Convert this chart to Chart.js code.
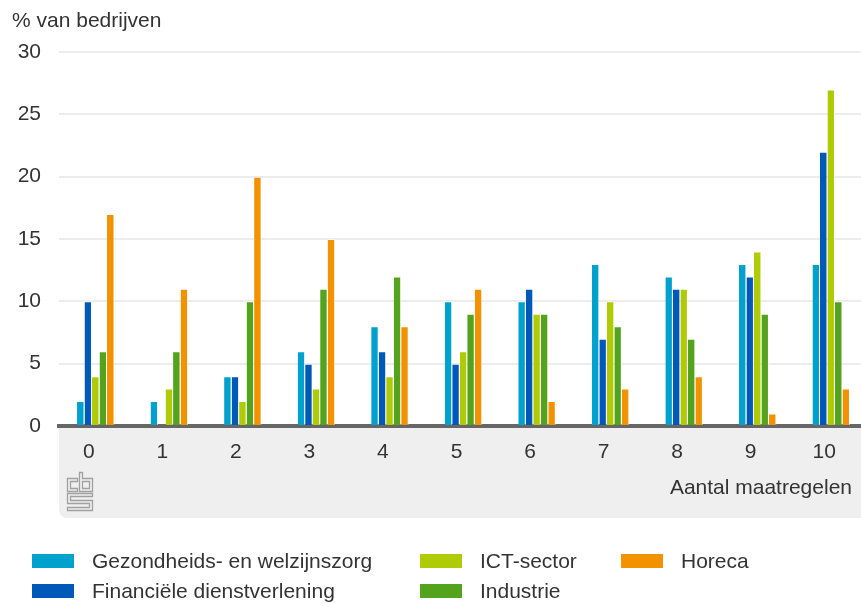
<!DOCTYPE html>
<html>
<head>
<meta charset="utf-8">
<script src="https://cdn.jsdelivr.net/npm/chart.js@4"></script>
<style>
  body { margin: 0; background: #fff; font-family: "Liberation Sans", Arial, sans-serif; }
  #wrap { position: relative; width: 861px; height: 604px; overflow: hidden; }
  #myChart { position: absolute; left: 0; top: 0; }
  .leg { position: absolute; font-size: 21px; color: #333; line-height: 24px; white-space: nowrap; padding-left: 60px; }
  .leg span { position: absolute; left: 0; top: 5px; width: 42px; height: 14px; }
</style>
</head>
<body>
<div id="wrap">
  <canvas id="myChart" width="868" height="604"></canvas>
  <div id="legend"></div>
</div>
<script>
// aantal maatregelen (x-as)
const categories = ["0", "1", "2", "3", "4", "5", "6", "7", "8", "9", "10"];

// % van bedrijven per sector
const zorg       = [2, 2, 4, 6, 8, 10, 10, 13, 12, 13, 13];
const financieel = [10, 0, 4, 5, 6, 5, 11, 7, 11, 12, 22];
const ict        = [4, 3, 2, 3, 4, 6, 9, 10, 11, 14, 27];
const industrie  = [6, 6, 10, 11, 12, 9, 9, 8, 7, 9, 10];
const horeca     = [17, 11, 20, 15, 8, 11, 2, 3, 4, 1, 3];

const yTicks = [0, 5, 10, 15, 20, 25, 30];

const sectors = ["Gezondheids- en welzijnszorg", "Financiële dienstverlening", "ICT-sector", "Industrie", "Horeca"];
const colors = ["#00a1cd", "#0058b8", "#afcb05", "#53a31d", "#f39200"];
const series = [zorg, financieel, ict, industrie, horeca];

// legenda in kolommen: [kolom x, rij]
const legendPos = [[32, 0], [32, 1], [420, 0], [420, 1], [621, 0]];
const legendEl = document.getElementById("legend");
sectors.forEach((name, i) => {
  const d = document.createElement("div");
  d.className = "leg";
  d.style.left = legendPos[i][0] + "px";
  d.style.top = (549 + legendPos[i][1] * 30) + "px";
  d.innerHTML = '<span style="background:' + colors[i] + '"></span>' + name;
  legendEl.appendChild(d);
});

// grijze band onder de x-as, titels en cbs-logo
const decoPlugin = {
  id: "deco",
  beforeDraw(chart) {
    const ctx = chart.ctx;
    const a = chart.chartArea;
    ctx.save();
    ctx.fillStyle = "#efefef";
    ctx.beginPath();
    ctx.roundRect(a.left, a.bottom, chart.width - a.left + 10, 92, [0, 0, 0, 8]);
    ctx.fill();
    ctx.restore();
  },
  afterDraw(chart) {
    const ctx = chart.ctx;
    ctx.save();
    ctx.font = "21px 'Liberation Sans', Arial, sans-serif";
    ctx.fillStyle = "#333";
    ctx.textBaseline = "middle";
    ctx.textAlign = "left";
    ctx.fillText("% van bedrijven", 12, 21);
    ctx.textAlign = "right";
    ctx.fillText("Aantal maatregelen", 852, 488);

    // logo
    ctx.strokeStyle = "#a0a0a0";
    ctx.lineWidth = 1.3;
    const poly = pts => {
      ctx.beginPath();
      pts.forEach((p, i) => i ? ctx.lineTo(p[0] + 0.5, p[1] + 0.5) : ctx.moveTo(p[0] + 0.5, p[1] + 0.5));
      ctx.closePath();
      ctx.stroke();
    };
    poly([[77, 478], [67, 478], [67, 491], [77, 491], [77, 488], [70, 488], [70, 481], [77, 481]]);
    poly([[79, 472], [82, 472], [82, 478], [92, 478], [92, 491], [79, 491]]);
    poly([[82, 481], [89, 481], [89, 488], [82, 488]]);
    poly([[92, 493], [67, 493], [67, 503], [89, 503], [89, 507], [67, 507], [67, 510], [92, 510],
          [92, 500], [70, 500], [70, 496], [92, 496]]);
    ctx.restore();
  }
};

const myChart = document.getElementById("myChart");

let barChart = new Chart(myChart, {
  type: "bar",
  data: {
    labels: categories,
    datasets: series.map((values, i) => ({
      label: sectors[i],
      data: values,
      backgroundColor: colors[i],
      borderColor: "rgba(255,255,255,0.6)",
      borderWidth: { top: 1, right: 1, left: 0, bottom: 0 },
      borderSkipped: false,
      barPercentage: 1,
      categoryPercentage: 0.51
    }))
  },
  options: {
    responsive: false,
    animation: false,
    devicePixelRatio: 1,
    layout: { padding: { top: 52, left: 0, right: 0, bottom: 0 } },
    plugins: {
      legend: { display: false },
      tooltip: { enabled: false }
    },
    scales: {
      x: {
        grid: { display: false, drawTicks: false },
        border: { display: true, color: "#666", width: 4 },
        ticks: {
          color: "#333",
          font: { size: 21, family: "'Liberation Sans', Arial, sans-serif" },
          padding: 14,
          labelOffset: -7
        },
        afterFit(scale) { scale.height = 178; }
      },
      y: {
        min: 0,
        max: 30,
        afterBuildTicks(scale) { scale.ticks = yTicks.map(v => ({ value: v })); },
        grid: { color: "#ececec", lineWidth: 2, drawTicks: false },
        border: { display: false },
        ticks: {
          color: "#333",
          font: { size: 21, family: "'Liberation Sans', Arial, sans-serif" },
          padding: 18
        },
        afterFit(scale) { scale.width = 59; }
      }
    }
  },
  plugins: [decoPlugin]
});
</script>
</body>
</html>
